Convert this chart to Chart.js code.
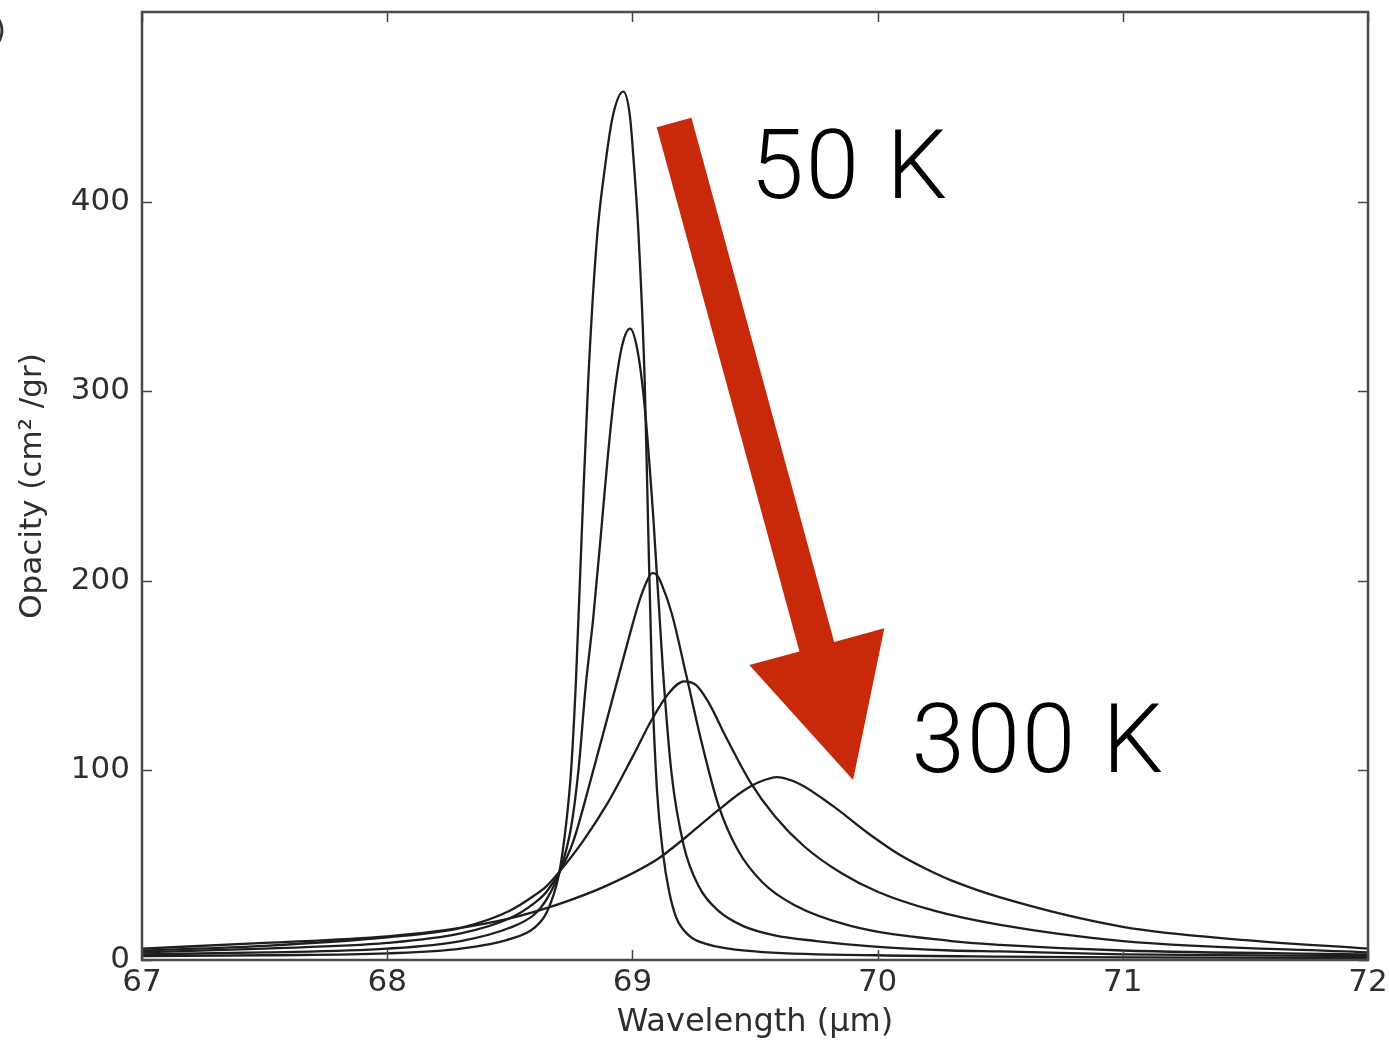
<!DOCTYPE html>
<html>
<head>
<meta charset="utf-8">
<script src="https://cdn.jsdelivr.net/npm/chart.js@4/dist/chart.umd.min.js"></script>
<style>
  html, body { margin: 0; padding: 0; background: #ffffff; }
  #wrap { width: 1389px; height: 1042px; }
</style>
</head>
<body>
<div id="wrap"><canvas id="c" width="1389" height="1042"></canvas></div>
<script>
// ---- Data ----
// Wavelength in micrometres, opacity in cm^2/gr
const wl50  = [67, 67.5, 68, 68.3, 68.5, 68.6, 68.65, 68.7, 68.73, 68.75, 68.77, 68.795, 68.82, 68.855, 68.888, 68.92, 68.963, 68.99, 69.006, 69.024, 69.05, 69.064, 69.08, 69.1, 69.125, 69.15, 69.18, 69.23, 69.3, 69.5, 70, 70.5, 71, 72];
const op50  = [2, 2.5, 3.5, 6, 11, 17, 25, 45, 72, 100, 148, 230, 306, 380, 418, 445, 458, 445, 420, 385, 306, 230, 148, 90, 56, 36, 22, 13, 8.5, 4.5, 2.5, 1.8, 1.4, 1];

const wl100 = [67, 67.5, 68, 68.3, 68.5, 68.6, 68.65, 68.705, 68.75, 68.78, 68.81, 68.84, 68.874, 68.9, 68.93, 68.96, 68.99, 69.02, 69.05, 69.086, 69.125, 69.16, 69.21, 69.27, 69.35, 69.45, 69.58, 69.75, 69.95, 70.3, 70.5, 71, 72];
const op100 = [3, 4, 6, 10, 17, 24, 32, 47, 70, 100, 145, 180, 228, 266, 302, 325, 333, 322, 292, 232, 152, 98, 60, 39, 26, 18, 13, 10, 7.5, 5, 4.5, 3, 2];

const wl150 = [67, 67.5, 68, 68.3, 68.5, 68.6, 68.65, 68.705, 68.76, 68.83, 68.94, 68.99, 69.03, 69.06, 69.08, 69.1, 69.12, 69.16, 69.22, 69.28, 69.35, 69.43, 69.53, 69.66, 69.89, 70.3, 70.5, 71, 72];
const op150 = [4, 6, 9, 14, 22, 30, 36, 47, 63, 95, 148, 172, 190, 200, 204, 203, 198, 183, 150, 116, 82, 58, 41, 29, 18, 10, 8, 5, 3];

const wl200 = [67, 67.5, 68, 68.3, 68.5, 68.6, 68.65, 68.705, 68.8, 68.9, 69.0, 69.08, 69.15, 69.21, 69.26, 69.31, 69.38, 69.48, 69.58, 69.7, 69.85, 70.0, 70.23, 70.5, 71, 72];
const op200 = [5, 7.5, 12, 17, 26, 34, 39, 47, 63, 83, 107, 127, 141, 147, 145, 136, 118, 94, 76, 60, 46, 36, 26, 18.5, 10, 4];

const wl300 = [67, 67.5, 68, 68.25, 68.5, 68.7, 68.9, 69.1, 69.22, 69.35, 69.45, 69.52, 69.59, 69.68, 69.82, 69.96, 70.09, 70.23, 70.3, 70.5, 71, 71.5, 72];
const op300 = [6, 9, 12.5, 16, 22, 29.5, 39.5, 53, 65, 79, 89, 94, 96.5, 93, 81, 67, 55.5, 46, 42, 33, 17.5, 10.5, 6];

const xTicks = [67, 68, 69, 70, 71, 72];
const yTicks = [0, 100, 200, 300, 400];
const xRange = [67, 72];
const yRange = [0, 500];

// annotation (data coordinates)
const arrowTail = [69.17, 441.7];
const arrowTip  = [69.90, 95];
const labelHot  = { text: '50 K',  x: 69.482, y: 402 };
const labelCold = { text: '300 K', x: 70.138, y: 99 };

const zip = (xs, ys) => xs.map((x, i) => ({ x: x, y: ys[i] }));

const series = [
  { label: '50 K',  xs: wl50,  ys: op50 },
  { label: '100 K', xs: wl100, ys: op100 },
  { label: '150 K', xs: wl150, ys: op150 },
  { label: '200 K', xs: wl200, ys: op200 },
  { label: '300 K', xs: wl300, ys: op300 }
];

const frameAndTicks = {
  id: 'frameAndTicks',
  afterDatasetsDraw(chart) {
    const ctx = chart.ctx, a = chart.chartArea;
    const xs = chart.scales.x, ys = chart.scales.y;
    ctx.save();
    ctx.strokeStyle = '#444';
    ctx.lineWidth = 1.5;
    const tl = 10;
    ctx.beginPath();
    xTicks.forEach(v => {
      const px = Math.round(xs.getPixelForValue(v)) + 0.5;
      ctx.moveTo(px, a.bottom); ctx.lineTo(px, a.bottom - tl);
      ctx.moveTo(px, a.top); ctx.lineTo(px, a.top + tl);
    });
    yTicks.forEach(v => {
      const py = Math.round(ys.getPixelForValue(v)) + 0.5;
      ctx.moveTo(a.left, py); ctx.lineTo(a.left + tl, py);
      ctx.moveTo(a.right, py); ctx.lineTo(a.right - tl, py);
    });
    ctx.stroke();
    ctx.lineWidth = 2.5;
    ctx.strokeStyle = '#4a4a4a';
    ctx.strokeRect(a.left, a.top, a.right - a.left, a.bottom - a.top);
    ctx.restore();
  },
  afterDraw(chart) {
    const ctx = chart.ctx;
    const xs = chart.scales.x, ys = chart.scales.y;
    // red arrow
    const tx = xs.getPixelForValue(arrowTail[0]), ty = ys.getPixelForValue(arrowTail[1]);
    const hx = xs.getPixelForValue(arrowTip[0]),  hy = ys.getPixelForValue(arrowTip[1]);
    const dx = hx - tx, dy = hy - ty, L = Math.hypot(dx, dy);
    const ux = dx / L, uy = dy / L, nx = -uy, ny = ux;
    const sw = 18, hl = 138, hw = 70;
    const bx = hx - ux * hl, by = hy - uy * hl;
    ctx.save();
    ctx.fillStyle = '#c8290a';
    ctx.beginPath();
    ctx.moveTo(tx + nx * sw, ty + ny * sw);
    ctx.lineTo(bx + nx * sw, by + ny * sw);
    ctx.lineTo(bx + nx * hw, by + ny * hw);
    ctx.lineTo(hx, hy);
    ctx.lineTo(bx - nx * hw, by - ny * hw);
    ctx.lineTo(bx - nx * sw, by - ny * sw);
    ctx.lineTo(tx - nx * sw, ty - ny * sw);
    ctx.closePath();
    ctx.fill();
    // temperature labels
    ctx.fillStyle = '#000';
    ctx.font = '300 96px Roboto, "Liberation Sans", sans-serif';
    ctx.textAlign = 'left';
    ctx.textBaseline = 'alphabetic';
    try { ctx.letterSpacing = '2px'; } catch (e) {}
    [labelHot, labelCold].forEach(l => {
      ctx.fillText(l.text, xs.getPixelForValue(l.x), ys.getPixelForValue(l.y));
    });
    try { ctx.letterSpacing = '0px'; } catch (e) {}
    // clipped panel letter at the top-left corner
    ctx.font = '30px "DejaVu Sans"';
    ctx.fillStyle = '#333';
    ctx.textAlign = 'right';
    ctx.fillText('(b)', 6, 40);
    ctx.restore();
  }
};

new Chart(document.getElementById('c'), {
  type: 'line',
  data: {
    datasets: series.map(s => ({
      label: s.label,
      data: zip(s.xs, s.ys),
      borderColor: '#1e1e1e',
      borderWidth: 2.3,
      pointRadius: 0,
      fill: false,
      cubicInterpolationMode: 'monotone'
    }))
  },
  options: {
    responsive: false,
    animation: false,
    devicePixelRatio: 1,
    layout: { padding: { top: 12, right: 21, left: 0, bottom: 0 } },
    plugins: { legend: { display: false }, tooltip: { enabled: false } },
    scales: {
      x: {
        type: 'linear',
        min: xRange[0], max: xRange[1],
        afterFit(scale) { scale.height = 82; scale.paddingLeft = 0; scale.paddingRight = 0; },
        afterBuildTicks(scale) { scale.ticks = xTicks.map(v => ({ value: v })); },
        grid: { display: false, drawTicks: false },
        border: { display: false },
        ticks: {
          color: '#2e2e2e',
          font: { family: '"DejaVu Sans"', size: 31 },
          padding: 4,
          maxRotation: 0,
          autoSkip: false,
          callback: v => String(v)
        },
        title: {
          display: true,
          text: 'Wavelength (μm)',
          color: '#2e2e2e',
          font: { family: '"DejaVu Sans"', size: 32 },
          padding: { top: 0, bottom: 0 }
        }
      },
      y: {
        type: 'linear',
        min: yRange[0], max: yRange[1],
        afterFit(scale) { scale.width = 142; scale.paddingTop = 0; scale.paddingBottom = 0; },
        afterBuildTicks(scale) { scale.ticks = yTicks.map(v => ({ value: v })); },
        grid: { display: false, drawTicks: false },
        border: { display: false },
        ticks: {
          color: '#2e2e2e',
          font: { family: '"DejaVu Sans"', size: 31 },
          padding: 12,
          autoSkip: false,
          callback: v => String(v)
        },
        title: {
          display: true,
          text: 'Opacity (cm² /gr)',
          color: '#2e2e2e',
          font: { family: '"DejaVu Sans"', size: 31 },
          padding: { top: 14, bottom: 0 }
        }
      }
    }
  },
  plugins: [frameAndTicks]
});
</script>
</body>
</html>
